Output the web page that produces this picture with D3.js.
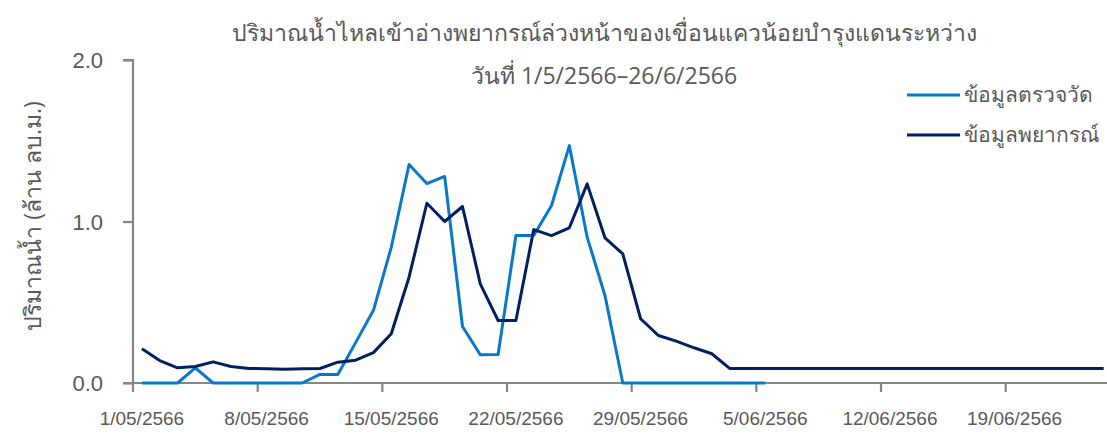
<!DOCTYPE html>
<html>
<head>
<meta charset="utf-8">
<script src="https://cdn.jsdelivr.net/npm/d3@7"></script>
<style>
  html, body { margin: 0; padding: 0; background: #fff; }
  svg { display: block; font-family: "Open Sans", "Noto Sans", sans-serif; }
</style>
</head>
<body>
<svg id="chart" width="1107" height="435"></svg>
<script>
// ---- data ----
const dayLabels = [];
for (let d = 1; d <= 31; d++) dayLabels.push(d + "/05/2566");
for (let d = 1; d <= 24; d++) dayLabels.push(d + "/06/2566");

const measured = [0, 0, 0, 0.094, 0, 0, 0, 0, 0, 0,
  0.053, 0.053, 0.25, 0.45, 0.84, 1.353, 1.235, 1.279, 0.35, 0.175,
  0.177, 0.913, 0.913, 1.099, 1.47, 0.903, 0.542, 0, 0, 0,
  0, 0, 0, 0, 0, 0];

const forecast = [0.212, 0.139, 0.094, 0.102, 0.131, 0.102, 0.09, 0.088, 0.085, 0.088,
  0.09, 0.129, 0.141, 0.188, 0.305, 0.655, 1.113, 1.0, 1.093, 0.614,
  0.387, 0.387, 0.95, 0.913, 0.961, 1.233, 0.899, 0.8, 0.398, 0.294,
  0.259, 0.218, 0.181, 0.09, 0.09, 0.09, 0.09, 0.09, 0.09, 0.09,
  0.09, 0.09, 0.09, 0.09, 0.09, 0.09, 0.09, 0.09, 0.09, 0.09,
  0.09, 0.09, 0.09, 0.09, 0.09];

const yTicks = [0, 1, 2];
const xTickLabels = ["1/05/2566", "8/05/2566", "15/05/2566", "22/05/2566", "29/05/2566", "5/06/2566", "12/06/2566", "19/06/2566"];

const titleLines = ["ปริมาณน้ำไหลเข้าอ่างพยากรณ์ล่วงหน้าของเขื่อนแควน้อยบำรุงแดนระหว่าง", "วันที่ 1/5/2566–26/6/2566"];
const yTitle = "ปริมาณน้ำ (ล้าน ลบ.ม.)";
const seriesNames = ["ข้อมูลตรวจวัด", "ข้อมูลพยากรณ์"];
const seriesColors = ["#0A78C6", "#002060"];

// ---- layout ----
const svg = d3.select("#chart");
const plotLeft = 133, plotBottom = 383, plotTop = 60;
const step = 17.81;
const x = d3.scaleBand().domain(dayLabels).range([plotLeft, plotLeft + dayLabels.length * step]).padding(0);
const y = d3.scaleLinear().domain([0, 2]).range([plotBottom, plotTop]);
const axisColor = "#878787";
const textColor = "#595959";

// y axis
const yAxis = svg.append("g").attr("transform", `translate(${plotLeft},0)`)
  .call(d3.axisLeft(y).tickValues(yTicks).tickFormat(d3.format(".1f")).tickSize(10).tickPadding(20));
yAxis.select(".domain").attr("stroke", axisColor).attr("stroke-width", 2.2).attr("d", `M-10,${plotTop}H0V${plotBottom}`);
yAxis.selectAll(".tick line").attr("stroke", axisColor).attr("stroke-width", 2.2);
yAxis.selectAll(".tick text").attr("fill", textColor).attr("font-size", 22).attr("font-weight", 300).attr("dy", "0.35em");

// x axis
const xAxis = svg.append("g").attr("transform", `translate(0,${plotBottom})`)
  .call(d3.axisBottom(x).tickValues(xTickLabels).tickSize(9).tickPadding(20));
xAxis.select(".domain").attr("stroke", axisColor).attr("stroke-width", 2.2).attr("d", `M${plotLeft - 10},0H${x.range()[1]}`);
xAxis.selectAll(".tick line").attr("stroke", axisColor).attr("stroke-width", 2.2)
  .attr("x1", -step / 2).attr("x2", -step / 2);
xAxis.selectAll(".tick text").attr("fill", textColor).attr("font-size", 19).attr("font-weight", 300).attr("dy", "0.71em");

// lines
const cx = i => x(dayLabels[i]) + x.bandwidth() / 2;
const line = d3.line().x((d, i) => cx(i)).y(d => y(d));
[measured, forecast].forEach((s, k) => {
  svg.append("path").datum(s)
    .attr("fill", "none").attr("stroke", seriesColors[k]).attr("stroke-width", 3)
    .attr("stroke-linejoin", "round").attr("d", line);
});

// title
svg.append("g").selectAll("text").data(titleLines).join("text")
  .attr("x", 604).attr("y", (d, i) => 41 + i * 43)
  .attr("text-anchor", "middle").attr("fill", textColor).attr("font-size", 23).attr("font-weight", 400)
  .text(d => d);

// y title
svg.append("text")
  .attr("transform", "translate(41,216) rotate(-90)")
  .attr("text-anchor", "middle").attr("fill", textColor).attr("font-size", 23).attr("font-weight", 400)
  .text(yTitle);

// legend
const lg = svg.append("g");
seriesNames.forEach((n, k) => {
  const ly = 95 + k * 40;
  lg.append("line").attr("x1", 907).attr("x2", 960).attr("y1", ly).attr("y2", ly)
    .attr("stroke", seriesColors[k]).attr("stroke-width", 3);
  lg.append("text").attr("x", 964).attr("y", ly).attr("dy", "0.35em")
    .attr("fill", textColor).attr("font-size", 21).attr("font-weight", 400).text(n);
});
</script>
</body>
</html>
